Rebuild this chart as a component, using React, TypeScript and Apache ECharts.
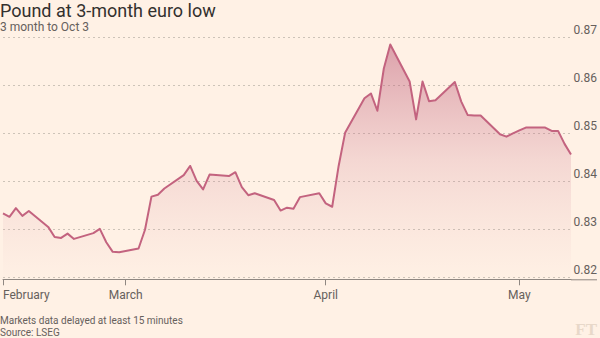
import React, { useEffect, useRef } from 'react';
import * as echarts from 'echarts';

const baseDate = '2025-02-01';

const dates = [
  '2025-02-10', '2025-02-11', '2025-02-12', '2025-02-13', '2025-02-14',
  '2025-02-17', '2025-02-18', '2025-02-19', '2025-02-20', '2025-02-21',
  '2025-02-24', '2025-02-25', '2025-02-26', '2025-02-27', '2025-02-28',
  '2025-03-03', '2025-03-04', '2025-03-05', '2025-03-06', '2025-03-07',
  '2025-03-10', '2025-03-11', '2025-03-12', '2025-03-13', '2025-03-14',
  '2025-03-17', '2025-03-18', '2025-03-19', '2025-03-20', '2025-03-21',
  '2025-03-24', '2025-03-25', '2025-03-26', '2025-03-27', '2025-03-28',
  '2025-03-31', '2025-04-01', '2025-04-02', '2025-04-03', '2025-04-04',
  '2025-04-07', '2025-04-08', '2025-04-09', '2025-04-10', '2025-04-11',
  '2025-04-14', '2025-04-15', '2025-04-16', '2025-04-17', '2025-04-18',
  '2025-04-21', '2025-04-22', '2025-04-23', '2025-04-24', '2025-04-25',
  '2025-04-28', '2025-04-29', '2025-04-30', '2025-05-01', '2025-05-02',
  '2025-05-05', '2025-05-06', '2025-05-07', '2025-05-08', '2025-05-09',
];

const gbpEur = [
  0.8333, 0.8326, 0.8344, 0.8328, 0.8338,
  0.8305, 0.8284, 0.8282, 0.8291, 0.8280,
  0.8292, 0.8301, 0.8273, 0.8253, 0.8252,
  0.8260, 0.8299, 0.8368, 0.8372, 0.8385,
  0.8413, 0.8432, 0.8401, 0.8383, 0.8414,
  0.8411, 0.8419, 0.8388, 0.8371, 0.8375,
  0.8361, 0.8339, 0.8345, 0.8343, 0.8367,
  0.8375, 0.8354, 0.8347, 0.8432, 0.8501,
  0.8573, 0.8583, 0.8547, 0.8635, 0.8685,
  0.8608, 0.8529, 0.8608, 0.8567, 0.8569,
  0.8607, 0.8566, 0.8538, 0.8537, 0.8537,
  0.8498, 0.8493, 0.8500, 0.8506, 0.8512,
  0.8512, 0.8505, 0.8505, 0.8478, 0.8456,
];

const monthTickDates = ['2025-02-10', '2025-03-01', '2025-04-01', '2025-05-01'];
const monthLabels = ['February', 'March', 'April', 'May'];

const yMin = 0.82;
const yMax = 0.87;
const yStep = 0.01;

const dayIndex = (d: string) =>
  Math.round((Date.parse(d) - Date.parse(baseDate)) / 86400000);

export default function App() {
  const ref = useRef<HTMLDivElement>(null);

  useEffect(() => {
    if (!ref.current) return;
    const chart = echarts.init(ref.current, undefined, { renderer: 'svg' });
    const seriesData = dates.map((d, i) => [dayIndex(d), gbpEur[i]]);
    const tickDays = monthTickDates.map(dayIndex);
    const xMin = dayIndex(dates[0]);
    const xMax = dayIndex(dates[dates.length - 1]);

    const textColor = '#66605c';
    const axisColor = '#8f8781';

    chart.setOption({
      animation: false,
      backgroundColor: '#fff1e5',
      grid: { left: 2, right: 28.8, top: 37.3, bottom: 60.7, containLabel: false },
      xAxis: {
        type: 'value',
        min: xMin,
        max: xMax,
        offset: 2,
        splitLine: { show: false },
        axisLine: { show: true, lineStyle: { color: axisColor, width: 1 } },
        axisTick: {
          show: true,
          customValues: tickDays,
          length: 6,
          lineStyle: { color: axisColor, width: 1 },
        },
        axisLabel: {
          customValues: tickDays,
          formatter: (v: number) => monthLabels[tickDays.indexOf(Math.round(v))] ?? '',
          color: textColor,
          fontFamily: 'Roboto',
          fontSize: 12,
          margin: 10,
          alignMinLabel: 'left',
        },
      },
      yAxis: {
        type: 'value',
        position: 'right',
        min: yMin,
        max: yMax,
        interval: yStep,
        axisLine: { show: false },
        axisTick: { show: false },
        splitLine: {
          show: true,
          lineStyle: { color: '#cdc3b8', type: [2, 3], width: 1 },
        },
        axisLabel: {
          formatter: (v: number) => v.toFixed(2),
          color: textColor,
          fontFamily: 'Roboto',
          fontSize: 12,
          align: 'right',
          verticalAlign: 'bottom',
          margin: 26,
          padding: [0, 0, 1, 0],
        },
      },
      series: [
        {
          type: 'line',
          data: seriesData,
          showSymbol: false,
          symbol: 'none',
          lineStyle: { color: '#c3637f', width: 2, join: 'round' },
          areaStyle: {
            color: new echarts.graphic.LinearGradient(0, 0, 0, 1, [
              { offset: 0, color: 'rgba(186, 84, 114, 0.72)' },
              { offset: 0.5, color: 'rgba(200, 110, 135, 0.28)' },
              { offset: 1, color: 'rgba(220, 150, 160, 0.02)' },
            ]),
          },
        },
      ],
      graphic: [
        {
          type: 'line',
          shape: { x1: 571, y1: 279.8, x2: 597, y2: 279.8 },
          style: { stroke: axisColor, lineWidth: 1 },
        },
        {
          type: 'text',
          x: 0,
          y: 1,
          style: {
            text: 'Pound at 3-month euro low',
            fill: '#33302e',
            font: '400 18px Roboto',
            textVerticalAlign: 'top',
          },
        },
        {
          type: 'text',
          x: 0,
          y: 21,
          style: {
            text: '3 month to Oct 3',
            fill: textColor,
            font: '400 12px Roboto',
            textVerticalAlign: 'top',
          },
        },
        {
          type: 'text',
          x: 0,
          y: 315,
          style: {
            text: 'Markets data delayed at least 15 minutes',
            fill: textColor,
            font: '400 10px Roboto',
            textVerticalAlign: 'top',
          },
        },
        {
          type: 'text',
          x: 0,
          y: 327,
          style: {
            text: 'Source: LSEG',
            fill: textColor,
            font: '400 10px Roboto',
            textVerticalAlign: 'top',
          },
        },
        {
          type: 'text',
          x: 597,
          y: 321,
          style: {
            text: 'FT',
            fill: '#e8d8c9',
            font: 'bold 17px "Liberation Serif"',
            textAlign: 'right',
            textVerticalAlign: 'top',
          },
        },
      ],
    });

    return () => chart.dispose();
  }, []);

  return (
    <div
      ref={ref}
      style={{ position: 'absolute', left: 0, top: 0, width: 600, height: 338 }}
    />
  );
}
